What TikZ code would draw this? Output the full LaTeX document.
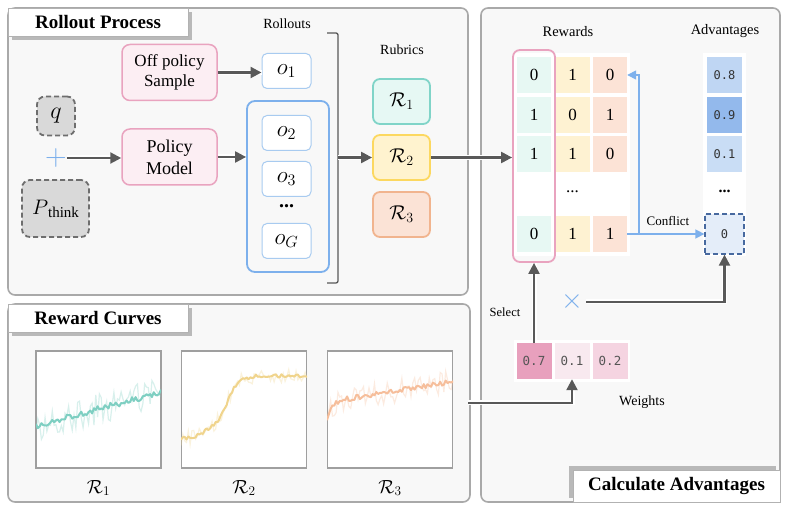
\RequirePackage{fix-cm}
\documentclass[tikz,border=0pt]{standalone}
\usepackage{fontspec}
\setmainfont{Liberation Serif}
\newfontfamily\monof{DejaVu Sans Mono}
\usetikzlibrary{arrows.meta}
\definecolor{panelf}{HTML}{F8F8F8}
\definecolor{panelb}{HTML}{A9A9A9}
\definecolor{arrc}{HTML}{595959}
\definecolor{pinkb}{HTML}{E9A3BF}
\definecolor{pinkf}{HTML}{FCEEF3}
\definecolor{ob}{HTML}{A8CBF0}
\definecolor{grpb}{HTML}{7DB0EC}
\definecolor{dashf}{HTML}{D9D9D9}
\definecolor{dashb}{HTML}{6E6E6E}
\definecolor{tealb}{HTML}{80D4C8}
\definecolor{tealf}{HTML}{E6F8F4}
\definecolor{yelb}{HTML}{FCD860}
\definecolor{yelf}{HTML}{FFF3CF}
\definecolor{orab}{HTML}{F1B48E}
\definecolor{oraf}{HTML}{FBE3D6}
\definecolor{cA}{HTML}{E7F8F3}
\definecolor{cB}{HTML}{FEF2D2}
\definecolor{cC}{HTML}{FCE3D6}
\definecolor{advA}{HTML}{BFD6F3}
\definecolor{advB}{HTML}{93B9EC}
\definecolor{advC}{HTML}{C9DDF5}
\definecolor{advE}{HTML}{E4EDF9}
\definecolor{advb}{HTML}{47699F}
\definecolor{blu}{HTML}{7DB0EC}
\definecolor{wA}{HTML}{E8A0BD}
\definecolor{wB}{HTML}{F8E9EF}
\definecolor{wC}{HTML}{F5D4E1}
\definecolor{wt}{HTML}{555555}
\definecolor{curveA}{HTML}{7ECFC2}
\definecolor{curveB}{HTML}{F0D48C}
\definecolor{curveC}{HTML}{F6BE9B}
\begin{document}
\begin{tikzpicture}[x=1pt,y=-1pt,
  panel/.style={draw=panelb, fill=panelf, line width=1.6pt, rounded corners=7pt},
  titlebox/.style={draw=gray!60, fill=white, line width=0.8pt, inner sep=0pt, font=\fontsize{19}{22}\selectfont\bfseries},
  shadowc/.style={fill=gray!55},
  arr/.style={draw=arrc, line width=2.2pt, -{Triangle[length=11pt,width=11pt]}, preaction={draw=white, line width=5pt, -}},
  barr/.style={draw=blu, line width=1.5pt, -{Triangle[length=9pt,width=9pt]}},
  lbl/.style={inner sep=1pt, font=\fontsize{14}{16}\selectfont},
  pinkbox/.style={draw=pinkb, fill=pinkf, line width=1.5pt, rounded corners=8pt, minimum width=95pt, minimum height=56pt, align=center, inner sep=0pt},
  obox/.style={draw=ob, fill=white, line width=1pt, rounded corners=5pt, minimum width=49pt, minimum height=35pt, inner sep=0pt, font=\fontsize{23}{26}\selectfont},
  dashbox/.style={draw=dashb, fill=dashf, line width=1.8pt, dashed, dash pattern=on 5pt off 3pt, rounded corners=8pt, inner sep=0pt},
  rbox/.style={line width=1.8pt, rounded corners=7pt, minimum width=57pt, minimum height=45pt, inner sep=0pt, font=\fontsize{20}{24}\selectfont},
  cell/.style={minimum width=34pt, minimum height=36pt, inner sep=0pt, font=\fontsize{17}{20}\selectfont},
  advcell/.style={minimum width=35pt, minimum height=36pt, inner sep=0pt, font=\monof\fontsize{12}{14}\selectfont, text=black!80},
  wcell/.style={minimum width=35pt, minimum height=36pt, inner sep=0pt, font=\monof\fontsize{12.5}{14}\selectfont, text=wt},
  plotbox/.style={draw=gray!75, fill=white, line width=1.4pt, minimum width=125pt, minimum height=117pt, inner sep=0pt}
]
\useasboundingbox (0,0) rectangle (788,510);

% ---------------- panels ----------------
\draw[panel] (8,8) rectangle (468,295);
\draw[panel] (8,304) rectangle (470,502);
\draw[panel] (481,8) rectangle (780,502);

\fill[shadowc] (12,12) rectangle (192,40);
\node[titlebox, minimum width=180pt, minimum height=28pt] (t1) at (98,22) {Rollout Process};
\fill[shadowc] (12,308) rectangle (192,336);
\node[titlebox, minimum width=180pt, minimum height=28pt] (t2) at (98,318) {Reward Curves};
\fill[shadowc] (569,466) rectangle (776,498);
\node[titlebox, minimum width=207pt, minimum height=32pt] (t3) at (676.5,486) {Calculate Advantages};

% ---------------- rollout process ----------------
\node[dashbox, minimum width=38pt, minimum height=39pt, font=\fontsize{24}{28}\selectfont] (q) at (56,116) {$q$};
\node[text=blu, inner sep=0pt, font=\fontsize{30}{30}\selectfont] (plus) at (56,158) {$+$};
\node[dashbox, minimum width=67pt, minimum height=57pt] (p) at (55.5,208.5)
  {{\fontsize{21}{24}\selectfont$P$}\raisebox{-3pt}{\fontsize{15}{17}\selectfont think}};

\node[pinkbox, font=\fontsize{17}{20}\selectfont] (off) at (169.5,72.5) {Off policy\\Sample};
\node[pinkbox, font=\fontsize{18}{22}\selectfont] (pm) at (169.5,157) {Policy\\Model};

\node[lbl] (rolllab) at (287,24) {Rollouts};
\node[obox] (o1) at (286.5,71) {$o_1$};
\node[draw=grpb, line width=1.8pt, rounded corners=8pt, minimum width=82pt, minimum height=171pt, inner sep=0pt] (grp) at (288,186.5) {};
\node[obox] (o2) at (286.5,133) {$o_2$};
\node[obox] (o3) at (286.5,179) {$o_3$};
\node[inner sep=0pt, font=\fontsize{20}{20}\selectfont\bfseries] (odots) at (286.5,206) {...};
\node[obox] (oG) at (286.5,241) {$o_G$};

\draw[arrc, line width=1.3pt, rounded corners=2pt] (327,33) -- (338,33) -- (338,283) -- (327,283);
\coordinate (brk) at (338,157.5);

\node[lbl] (rublab) at (402,50) {Rubrics};
\node[rbox, draw=tealb, fill=tealf] (r1) at (401.5,101.5) {$\mathcal{R}_1$};
\node[rbox, draw=yelb, fill=yelf] (r2) at (401.5,157.5) {$\mathcal{R}_2$};
\node[rbox, draw=orab, fill=oraf] (r3) at (401.5,214.5) {$\mathcal{R}_3$};

% ---------------- rewards matrix ----------------
\node[lbl, font=\fontsize{14.5}{16}\selectfont] (rewlab) at (568,32) {Rewards};
\fill[white] (513,53) rectangle (630,256);
\foreach \r/\y/\a/\b/\c in {1/75/0/1/0, 2/115/1/0/1, 3/154/1/1/0, 5/234/0/1/1} {
  \node[cell, fill=cA] (m\r1) at (534,\y) {\a};
  \node[cell, fill=cB] (m\r2) at (572.5,\y) {\b};
  \node[cell, fill=cC] (m\r3) at (610,\y) {\c};
}
\node[inner sep=0pt, font=\fontsize{17}{20}\selectfont] (mdots) at (572.5,192) {...};
\node[draw=pinkb, line width=1.8pt, rounded corners=7pt, minimum width=42pt, minimum height=212pt, inner sep=0pt] (pcol) at (534,156) {};

% ---------------- advantages ----------------
\node[lbl, font=\fontsize{14.5}{16}\selectfont] (advlab) at (725,31) {Advantages};
\fill[white] (703,53) rectangle (746,256);
\node[advcell, fill=advA] (a1) at (724.5,75) {0.8};
\node[advcell, fill=advB] (a2) at (724.5,115) {0.9};
\node[advcell, fill=advC] (a3) at (724.5,154) {0.1};
\node[inner sep=0pt, font=\fontsize{16}{20}\selectfont\bfseries] (adots) at (724.5,191) {...};
\node[advcell, fill=advE, draw=advb, line width=1.3pt, dashed, dash pattern=on 5pt off 3pt, minimum width=39pt, minimum height=40pt] (a5) at (724.5,234) {0};

\node[inner sep=1pt, font=\fontsize{13}{15}\selectfont] (conf) at (668,221) {Conflict};

% ---------------- weights ----------------
\fill[white] (514,340) rectangle (630,382);
\node[wcell, fill=wA] (w1) at (534,361) {0.7};
\node[wcell, fill=wB] (w2) at (572,361) {0.1};
\node[wcell, fill=wC] (w3) at (610,361) {0.2};
\node[lbl] (wlab) at (642,402) {Weights};
\node[inner sep=1pt, font=\fontsize{12.5}{15}\selectfont] (sel) at (505,312) {Select};
\node[text=blu, inner sep=3pt, font=\fontsize{28}{28}\selectfont] (cross) at (572,302) {$\times$};

% ---------------- reward curves ----------------
\node[plotbox] (pl1) at (98.5,409.5) {};
\node[plotbox] (pl2) at (244,409.5) {};
\node[plotbox] (pl3) at (390,409.5) {};
\node[font=\fontsize{19}{22}\selectfont] (rl1) at (98.5,488) {$\mathcal{R}_1$};
\node[font=\fontsize{19}{22}\selectfont] (rl2) at (244,488) {$\mathcal{R}_2$};
\node[font=\fontsize{19}{22}\selectfont] (rl3) at (390,488) {$\mathcal{R}_3$};

\pgfmathsetseed{7}
\begin{scope}
\clip (36,351) rectangle (161,468);
\draw[curveA, opacity=0.3, line width=1.2pt] plot[domain=0:125, samples=70] ({36+\x},{426-34*\x/125+15*rand});
\draw[curveA, line width=2pt, line join=round] plot[domain=0:125, samples=70] ({36+\x},{426-34*\x/125+3*rand});
\end{scope}
\begin{scope}
\clip (181,351) rectangle (307,468);
\draw[curveB, opacity=0.3, line width=1.2pt] plot[domain=0:126, samples=70] ({181+\x},{440-12/(1+exp(-(\x-20)/8))-52/(1+exp(-(\x-46)/6))+7*rand});
\draw[curveB, line width=2pt, line join=round] plot[domain=0:126, samples=70] ({181+\x},{440-12/(1+exp(-(\x-20)/8))-52/(1+exp(-(\x-46)/6))+2*rand});
\end{scope}
\begin{scope}
\clip (327,351) rectangle (453,468);
\draw[curveC, opacity=0.3, line width=1.2pt] plot[domain=0:126, samples=70] ({327+\x},{422-20*(1-exp(-\x/4))-0.16*\x+12*rand});
\draw[curveC, line width=2pt, line join=round] plot[domain=0:126, samples=70] ({327+\x},{422-20*(1-exp(-\x/4))-0.16*\x+2.5*rand});
\end{scope}
\coordinate (rcout) at (468,403);

% ---------------- connectors ----------------
\draw[arr] (plus.east) -- (plus.east -| pm.west);
\draw[arr] (off.east) -- (off.east -| o1.west);
\draw[arr] (pm.east) -- (pm.east -| grp.west);
\draw[arr] (brk) -- (r2.west);
\draw[arr] (r2.east) -- (r2.east -| pcol.west);
\draw[barr] (m53.east) -- ++(12,0) coordinate (cj) |- (m13.east);
\draw[barr] (cj) -- (cj -| a5.west);
\draw[arr] (w1.north) -- (pcol.south);
\draw[arr] (cross.east) -| (a5.south);
\draw[arr] (rcout) -| (w2.south);
\end{tikzpicture}
\end{document}
